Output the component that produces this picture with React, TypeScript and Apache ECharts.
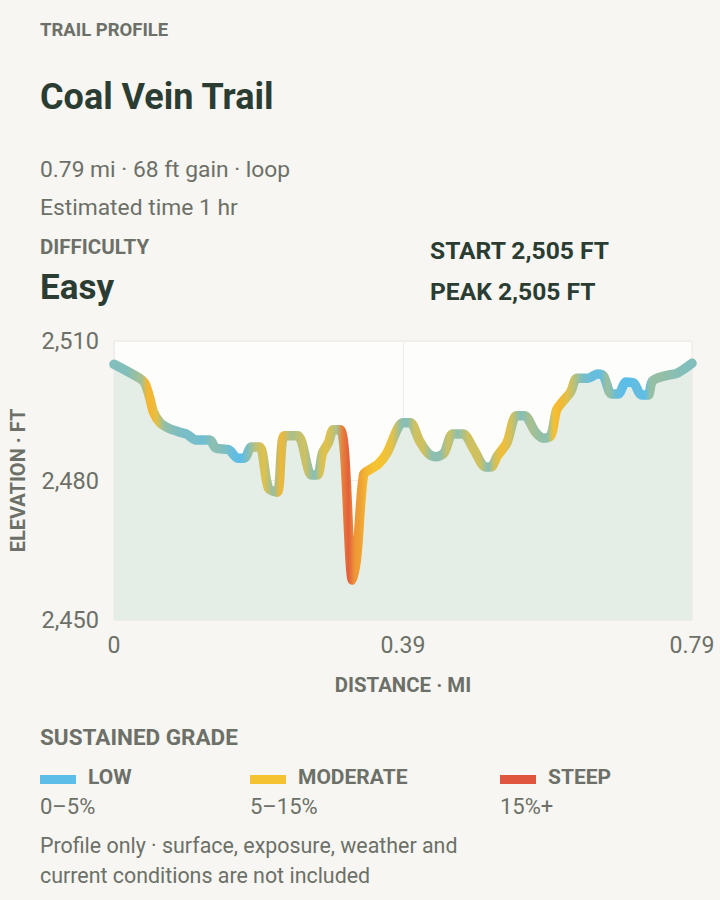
import React, { useEffect, useRef } from "react";
import * as echarts from "echarts";

// ---- data ----
const distanceMi = [
  0, 0.035, 0.042, 0.049, 0.054, 0.063, 0.074, 0.09, 0.099, 0.113,
  0.131, 0.139, 0.157, 0.169, 0.178, 0.188, 0.199, 0.211, 0.223, 0.233,
  0.251, 0.27, 0.278, 0.285, 0.293, 0.3, 0.309, 0.315, 0.326, 0.332,
  0.341, 0.349, 0.361, 0.373, 0.388, 0.395, 0.405, 0.417, 0.429, 0.44,
  0.451, 0.463, 0.477, 0.492, 0.508, 0.515, 0.524, 0.537, 0.55, 0.561,
  0.576, 0.587, 0.597, 0.605, 0.614, 0.624, 0.633, 0.648, 0.661, 0.669,
  0.68, 0.689, 0.7, 0.71, 0.721, 0.73, 0.736, 0.753, 0.77, 0.79,
];
const elevationFt = [
  2505.0, 2502.0, 2501.0, 2497.7, 2494.7, 2492.4, 2491.3, 2490.4, 2490.0, 2488.7,
  2488.7, 2487.0, 2486.6, 2484.8, 2484.8, 2487.2, 2487.2, 2478.4, 2477.5, 2489.6,
  2489.6, 2481.2, 2481.2, 2485.9, 2488.1, 2490.9, 2490.9, 2486.1, 2458.6, 2464.0,
  2481.2, 2482.3, 2483.5, 2485.9, 2491.3, 2492.4, 2492.4, 2488.7, 2485.9, 2485.1,
  2485.9, 2490.0, 2490.0, 2486.6, 2482.9, 2482.9, 2485.3, 2488.1, 2493.9, 2493.9,
  2490.4, 2489.1, 2489.6, 2495.2, 2497.1, 2499.0, 2502.0, 2502.0, 2502.9, 2502.5,
  2498.6, 2498.6, 2501.2, 2501.0, 2498.4, 2498.4, 2501.4, 2502.5, 2503.1, 2505.2,
];
// sustained grade (%) of each segment between consecutive points
const segmentGradePct = [
  2, 4, 9, 9, 7, 3, 2, 1.5, 1.5, 1,
  2.5, 2, 0.5, 0, 2, 5, 7, 3, 9, 4,
  6, 2, 6, 7, 6, 4, 14, 17, 12, 11,
  9, 8, 8, 7, 3, 2, 6, 6, 2.5, 2.5,
  6, 2.5, 6, 6, 2, 6, 8.5, 6, 2, 4,
  3, 2.5, 8, 9, 7, 5, 1.5, 0.5, 0.5, 3.5,
  1, 0, 0, 0.5, 0, 3, 3, 2.5, 2,
];
const yTickValues = [2450, 2480, 2510];
const xTickLabels = ["0", "0.39", "0.79"];

const gradeNames = ["LOW", "MODERATE", "STEEP"];
const gradeRanges = ["0–5%", "5–15%", "15%+"];
const gradeColors = ["#5cbde9", "#f5c232", "#e0553d"];
const gradeAnchorPct = [0, 8, 18];

// ---- helpers ----
function hexToRgb(h: string) {
  const n = parseInt(h.slice(1), 16);
  return [(n >> 16) & 255, (n >> 8) & 255, n & 255];
}
function gradeColor(g: number) {
  const cols = gradeColors.map(hexToRgb);
  if (g <= gradeAnchorPct[0]) return gradeColors[0];
  for (let i = 0; i < gradeAnchorPct.length - 1; i++) {
    const a = gradeAnchorPct[i], b = gradeAnchorPct[i + 1];
    if (g <= b) {
      const t = (g - a) / (b - a);
      const c = cols[i].map((v, k) => Math.round(v + (cols[i + 1][k] - v) * t));
      return `rgb(${c[0]},${c[1]},${c[2]})`;
    }
  }
  return gradeColors[gradeColors.length - 1];
}

const FONT = "Roboto, 'Noto Sans', sans-serif";
const DARK = "#2b3d33";
const GREY = "#6c7068";
const BG = "#f7f6f2";

export default function App() {
  const ref = useRef<HTMLDivElement>(null);
  useEffect(() => {
    document.body.style.margin = "0";
    if (!ref.current) return;
    const chart = echarts.init(ref.current, undefined, { renderer: "svg" });

    const xMin = distanceMi[0];
    const xMax = distanceMi[distanceMi.length - 1];
    const span = xMax - xMin;
    const stops: { offset: number; color: string }[] = [];
    stops.push({ offset: 0, color: gradeColor(segmentGradePct[0]) });
    for (let i = 0; i < segmentGradePct.length; i++) {
      const mid = (distanceMi[i] + distanceMi[i + 1]) / 2;
      stops.push({ offset: (mid - xMin) / span, color: gradeColor(segmentGradePct[i]) });
    }
    stops.push({ offset: 1, color: gradeColor(segmentGradePct[segmentGradePct.length - 1]) });

    const yMin = yTickValues[0];
    const yMax = yTickValues[yTickValues.length - 1];
    const yInterval = yTickValues[1] - yTickValues[0];
    const xInterval = span / (xTickLabels.length - 1);

    const txt = (text: string, x: number, y: number, size: number, bold: boolean, fill: string) => ({
      type: "text",
      x,
      y,
      silent: true,
      style: {
        text,
        fill,
        font: `${bold ? "bold " : ""}${size}px ${FONT}`,
        verticalAlign: "middle",
        align: "left",
      },
    });

    const graphics: any[] = [
      txt("TRAIL PROFILE", 40, 30, 18.5, true, GREY),
      txt("Coal Vein Trail", 40, 97, 36, true, DARK),
      txt("0.79 mi · 68 ft gain · loop", 40, 169, 22.8, false, GREY),
      txt("Estimated time 1 hr", 40, 207, 22.8, false, GREY),
      txt("DIFFICULTY", 40, 247, 20.5, true, GREY),
      txt("Easy", 40, 287, 35, true, DARK),
      txt("START 2,505 FT", 430, 250, 24.6, true, DARK),
      txt("PEAK 2,505 FT", 430, 291, 24.6, true, DARK),
      txt("SUSTAINED GRADE", 40, 737, 22.5, true, GREY),
      txt("Profile only · surface, exposure, weather and", 40, 845, 21.4, false, GREY),
      txt("current conditions are not included", 40, 875, 21.4, false, GREY),
    ];
    const legendX = [40, 250, 500];
    gradeNames.forEach((n, i) => {
      graphics.push({
        type: "rect",
        silent: true,
        shape: { x: legendX[i], y: 775, width: 36, height: 9 },
        style: { fill: gradeColors[i] },
      });
      graphics.push(txt(n, legendX[i] + 48, 777, 21, true, GREY));
      graphics.push(txt(gradeRanges[i], legendX[i], 806, 22, false, GREY));
    });

    chart.setOption({
      animation: false,
      backgroundColor: BG,
      textStyle: { fontFamily: FONT },
      grid: {
        left: 112,
        top: 341,
        width: 580,
        height: 279,
        show: true,
        backgroundColor: "#fdfdfb",
        borderColor: "#ecebe6",
        borderWidth: 1,
      },
      xAxis: {
        type: "value",
        min: xMin,
        max: xMax,
        interval: xInterval,
        name: "DISTANCE · MI",
        nameLocation: "middle",
        nameGap: 55,
        nameTextStyle: { color: GREY, fontSize: 20.4, fontWeight: "bold", fontFamily: FONT },
        axisLine: { show: false },
        axisTick: { show: false },
        axisLabel: {
          margin: 14,
          fontSize: 23,
          color: GREY,
          fontFamily: FONT,
          formatter: (v: number) => xTickLabels[Math.round((v - xMin) / xInterval)] ?? "",
        },
        splitLine: { show: true, lineStyle: { color: "#eeede8", width: 1 } },
      },
      yAxis: {
        type: "value",
        min: yMin,
        max: yMax,
        interval: yInterval,
        name: "ELEVATION · FT",
        nameLocation: "middle",
        nameGap: 86,
        nameRotate: 90,
        nameTextStyle: { color: GREY, fontSize: 20, fontWeight: "bold", fontFamily: FONT },
        axisLine: { show: false },
        axisTick: { show: false },
        axisLabel: {
          margin: 15,
          fontSize: 23.5,
          color: GREY,
          fontFamily: FONT,
          formatter: (v: number) => v.toLocaleString("en-US"),
        },
        splitLine: { show: true, lineStyle: { color: "#eeede8", width: 1 } },
      },
      series: [
        {
          type: "line",
          data: distanceMi.map((d, i) => [d, elevationFt[i]]),
          symbol: "none",
          smooth: 0.3,
          clip: false,
          lineStyle: {
            width: 9.5,
            cap: "round",
            join: "round",
            color: new echarts.graphic.LinearGradient(0, 0, 1, 0, stops),
          },
          areaStyle: { color: "#e5ede7", opacity: 1, origin: "start" },
          silent: true,
        },
      ],
      graphic: graphics,
    });
    return () => chart.dispose();
  }, []);
  return (
    <div
      ref={ref}
      style={{ position: "absolute", left: 0, top: 0, width: 720, height: 900, background: BG }}
    />
  );
}
